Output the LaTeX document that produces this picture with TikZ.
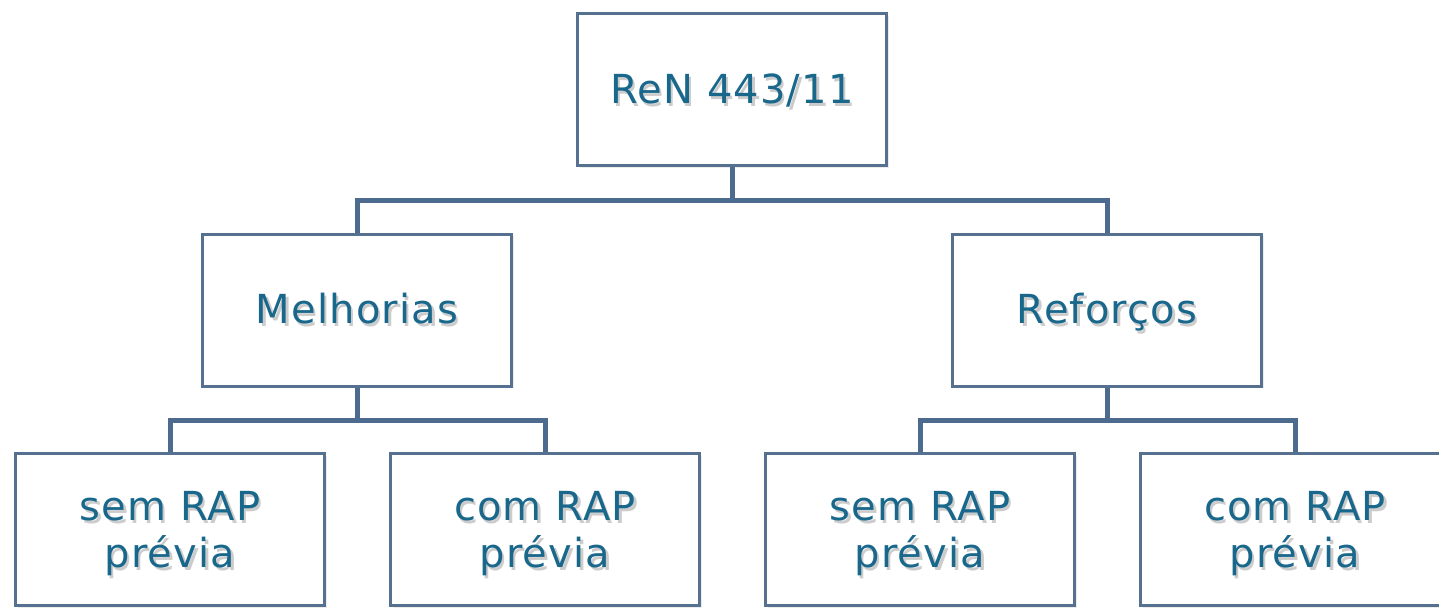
\documentclass[tikz,border=0pt]{standalone}
\usepackage{fontspec}
\setmainfont[LetterSpace=3]{DejaVu Sans}
\usetikzlibrary{shadows}
\definecolor{boxline}{HTML}{56718F}
\definecolor{linkline}{HTML}{4C6B8E}
\definecolor{boxtext}{HTML}{19688C}
\tikzset{
	unitbox/.style={draw=boxline, line width=1.5pt, fill=white, inner sep=0pt,
		minimum width=154.5pt, minimum height=76pt,
		drop shadow={opacity=0.15, shadow xshift=1pt, shadow yshift=-1pt}},
	textshade/.style={inner sep=0pt, align=center, anchor=base, text=black, opacity=0.2,
		font=\fontsize{20}{23.5}\selectfont},
	boxlabel/.style={inner sep=0pt, align=center, anchor=base, text=boxtext,
		font=\fontsize{20}{23.5}\selectfont},
	link/.style={draw=linkline, line width=2.5pt}
}
%box with a soft shadow under its text, #4 = shift of the last baseline from the centre
\newcommand{\orgBox}[4]{
	\node[unitbox] (#1) at #2 {};
	\node[textshade] at ([xshift=1.2pt,yshift=#4-1.5pt]#1.center) {#3};
	\node[boxlabel] (#1Text) at ([yshift=#4]#1.center) {#3};
}

\begin{document}
\begin{tikzpicture}[x=0.5pt, y=0.5pt]
	\clip (0,0) rectangle (1439,-607);
	%rows of the chart
	\coordinate (barTop) at (732,-200);
	\coordinate (barLeft) at (357,-420);
	\coordinate (barRight) at (1107,-420);

	\orgBox{ren}{(732,-89.5)}{ReN 443/11}{-6.75pt}
	\orgBox{melhorias}{(357,-310)}{Melhorias}{-6.75pt}
	\orgBox{reforcos}{(1107,-310)}{Reforços}{-6.75pt}
	\orgBox{melSem}{(170,-529.5)}{sem RAP\\prévia}{-18.75pt}
	\orgBox{melCom}{(545,-529.5)}{com RAP\\prévia}{-18.75pt}
	\orgBox{refSem}{(920,-529.5)}{sem RAP\\prévia}{-18.75pt}
	\orgBox{refCom}{(1295,-529.5)}{com RAP\\prévia}{-18.75pt}

	%connectors
	\draw[link] (ren.south) -- (ren.south |- barTop) -| (melhorias.north);
	\draw[link] (ren.south |- barTop) -| (reforcos.north);
	\draw[link] (melhorias.south) -- (melhorias.south |- barLeft) -| (melSem.north);
	\draw[link] (melhorias.south |- barLeft) -| (melCom.north);
	\draw[link] (reforcos.south) -- (reforcos.south |- barRight) -| (refSem.north);
	\draw[link] (reforcos.south |- barRight) -| (refCom.north);
\end{tikzpicture}
\end{document}
